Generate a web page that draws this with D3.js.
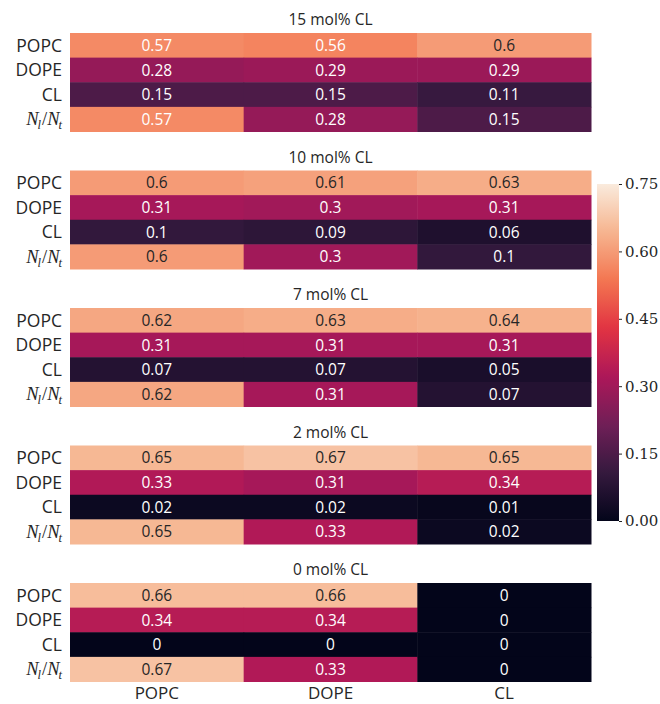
<!DOCTYPE html>
<html>
<head>
<meta charset="utf-8">
<script src="https://cdn.jsdelivr.net/npm/d3@7"></script>
<style>
  body { margin: 0; background: #fff; }
  svg text { font-family: "Open Sans", Lato, "DejaVu Sans", sans-serif; }
</style>
</head>
<body>
<svg id="chart" width="660" height="704"></svg>
<script>
// Lipid composition per CL concentration: rows are lipid types plus N_l/N_t,
// columns are the lipid species.
const panelTitles = ["15 mol% CL", "10 mol% CL", "7 mol% CL", "2 mol% CL", "0 mol% CL"];
const rowLabels = ["POPC", "DOPE", "CL", "Nl/Nt"];
const colLabels = ["POPC", "DOPE", "CL"];

const cl15 = [[0.57, 0.56, 0.6], [0.28, 0.29, 0.29], [0.15, 0.15, 0.11], [0.57, 0.28, 0.15]];
const cl10 = [[0.6, 0.61, 0.63], [0.31, 0.3, 0.31], [0.1, 0.09, 0.06], [0.6, 0.3, 0.1]];
const cl7  = [[0.62, 0.63, 0.64], [0.31, 0.31, 0.31], [0.07, 0.07, 0.05], [0.62, 0.31, 0.07]];
const cl2  = [[0.65, 0.67, 0.65], [0.33, 0.31, 0.34], [0.02, 0.02, 0.01], [0.65, 0.33, 0.02]];
const cl0  = [[0.66, 0.66, 0], [0.34, 0.34, 0], [0, 0, 0], [0.67, 0.33, 0]];
const panels = [cl15, cl10, cl7, cl2, cl0];

const colorTicks = [0.0, 0.15, 0.30, 0.45, 0.60, 0.75];
const vmin = 0, vmax = 0.75;

// "rocket" colour ramp
const rocketStops = ["#03051a", "#35193e", "#701f57", "#ad1759", "#e13342", "#f37651", "#f6b48f", "#faebdd"];
const rocket = d3.scaleLinear()
  .domain(rocketStops.map((_, i) => i / (rocketStops.length - 1)))
  .range(rocketStops)
  .interpolate(d3.interpolateRgb)
  .clamp(true);
const norm = d3.scaleLinear().domain([vmin, vmax]).range([0, 1]).clamp(true);
const colorOf = v => rocket(norm(v));

function luminance(c) {
  const rgb = d3.rgb(c);
  const lin = x => { x /= 255; return x <= 0.03928 ? x / 12.92 : Math.pow((x + 0.055) / 1.055, 2.4); };
  return 0.2126 * lin(rgb.r) + 0.7152 * lin(rgb.g) + 0.0722 * lin(rgb.b);
}

const svg = d3.select("#chart");

const left = 70, right = 591;
const panelTop0 = 33, panelStep = 137.5, panelH = 98.5;

const x = d3.scaleBand().domain(colLabels).range([left, right]).padding(0);
const serif = "'Liberation Serif', 'DejaVu Serif', serif";

panels.forEach((data, p) => {
  const top = panelTop0 + p * panelStep;
  const y = d3.scaleBand().domain(rowLabels).range([top, top + panelH]).padding(0);
  const g = svg.append("g");

  g.append("text")
    .attr("x", (left + right) / 2)
    .attr("y", top - 8)
    .attr("text-anchor", "middle")
    .attr("font-size", 15.5)
    .attr("fill", "#262626")
    .text(panelTitles[p]);

  const cells = [];
  data.forEach((row, r) => row.forEach((v, c) => cells.push({ r: rowLabels[r], c: colLabels[c], v })));

  g.selectAll("rect").data(cells).join("rect")
    .attr("x", d => x(d.c))
    .attr("y", d => y(d.r))
    .attr("width", x.bandwidth() + 0.5)
    .attr("height", y.bandwidth() + 0.5)
    .attr("fill", d => colorOf(d.v));

  g.selectAll("text.val").data(cells).join("text")
    .attr("class", "val")
    .attr("x", d => x(d.c) + x.bandwidth() / 2)
    .attr("y", d => y(d.r) + y.bandwidth() / 2)
    .attr("dy", "0.36em")
    .attr("text-anchor", "middle")
    .attr("font-size", 15.5)
    .attr("fill", d => luminance(colorOf(d.v)) > 0.408 ? "#262626" : "#ffffff")
    .text(d => d3.format("")(d.v));

  // row labels
  rowLabels.forEach(lbl => {
    const t = g.append("text")
      .attr("x", left - 8)
      .attr("y", y(lbl) + y.bandwidth() / 2)
      .attr("dy", "0.36em")
      .attr("text-anchor", "end")
      .attr("font-size", 17.5)
      .attr("fill", "#262626");
    if (lbl === "Nl/Nt") {
      t.style("font-family", serif);
      t.append("tspan").attr("font-style", "italic").attr("font-size", 18.5).text("N");
      t.append("tspan").attr("font-style", "italic").attr("font-size", 12.5).attr("dy", 4).attr("dx", -1).text("l");
      t.append("tspan").attr("font-size", 18.5).attr("dy", -4).attr("dx", 1).text("/");
      t.append("tspan").attr("font-style", "italic").attr("font-size", 18.5).text("N");
      t.append("tspan").attr("font-style", "italic").attr("font-size", 12.5).attr("dy", 4).attr("dx", -1).text("t");
    } else {
      t.text(lbl);
    }
  });
});

// bottom column labels
svg.append("g").selectAll("text").data(colLabels).join("text")
  .attr("x", d => x(d) + x.bandwidth() / 2)
  .attr("y", 693)
  .attr("dy", "0.36em")
  .attr("text-anchor", "middle")
  .attr("font-size", 17)
  .attr("fill", "#262626")
  .text(d => d);

// colour bar
const cbX = 597, cbW = 22, cbTop = 184, cbBottom = 521;
const cbScale = d3.scaleLinear().domain([vmin, vmax]).range([cbBottom, cbTop]);
const defs = svg.append("defs");
const grad = defs.append("linearGradient").attr("id", "cbgrad")
  .attr("x1", 0).attr("y1", 1).attr("x2", 0).attr("y2", 0);
d3.range(0, 1.0001, 0.02).forEach(t => {
  grad.append("stop").attr("offset", t).attr("stop-color", rocket(t));
});
svg.append("rect")
  .attr("x", cbX).attr("y", cbTop)
  .attr("width", cbW).attr("height", cbBottom - cbTop)
  .attr("fill", "url(#cbgrad)");

const cbAxis = d3.axisRight(cbScale).tickValues(colorTicks).tickFormat(d3.format(".2f")).tickSize(3).tickPadding(3);
const cbG = svg.append("g").attr("transform", `translate(${cbX + cbW},0)`).call(cbAxis);
cbG.select(".domain").remove();
cbG.selectAll("line").attr("stroke", "#262626");
cbG.selectAll("text")
  .style("font-family", "'DejaVu Serif', 'Liberation Serif', serif")
  .attr("font-size", 15)
  .attr("fill", "#262626");
</script>
</body>
</html>
